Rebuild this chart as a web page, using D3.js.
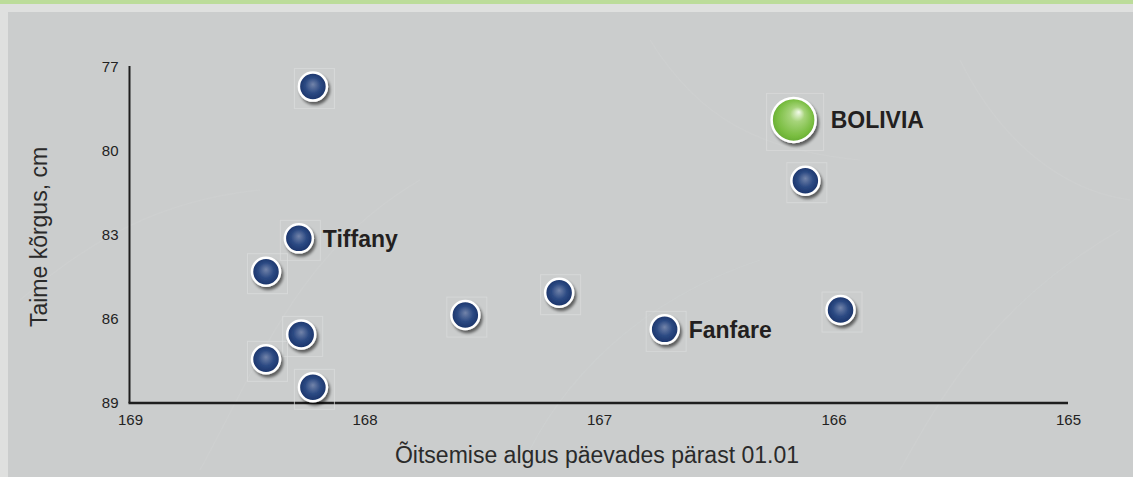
<!DOCTYPE html>
<html><head><meta charset="utf-8">
<script src="https://cdn.jsdelivr.net/npm/d3@7/dist/d3.min.js"></script>
<style>html,body{margin:0;padding:0;background:#cbcdcd;}svg{display:block;}</style>
</head><body>
<svg id="c" width="1133" height="477"></svg>
<script>
// Data
const days    = [168.22, 168.28, 168.42, 168.27, 168.42, 168.22, 167.57, 167.17, 166.72, 166.12, 165.97, 166.17];
const heights = [77.7,   83.12,  84.31,  86.55,  87.44,  88.44,  85.86,  85.06,  86.37,  81.06,  85.68,  78.89];
const labels  = ["",     "Tiffany", "",  "",     "",     "",     "",     "",     "Fanfare", "",   "",     "BOLIVIA"];
const highlight = [false,false,false,false,false,false,false,false,false,false,false,true];
const xTicks = [169, 168, 167, 166, 165];
const yTicks = [77, 80, 83, 86, 89];
const xTitle = "Õitsemise algus päevades pärast 01.01";
const yTitle = "Taime kõrgus, cm";

const W = 1133, H = 477;
const svg = d3.select("#c");
const font = "'Liberation Sans', Arial, sans-serif";

// background frame
svg.append("rect").attr("x",0).attr("y",0).attr("width",W).attr("height",H).attr("fill","#dfe0df");
svg.append("rect").attr("x",8).attr("y",12).attr("width",W-8).attr("height",H-12).attr("fill","#cbcdcd");
svg.append("rect").attr("x",0).attr("y",0).attr("width",W).attr("height",4).attr("fill","#bcdc9a");

// very subtle leaf texture
const tex = svg.append("g").attr("opacity",0.1).attr("fill","none").attr("stroke","#e6e7e7").attr("stroke-width",1.2);
["M200,470 C260,360 300,250 420,180","M520,470 C560,380 640,300 760,260","M900,470 C950,380 1000,300 1120,230",
 "M20,300 C90,240 160,200 260,190","M650,40 C700,120 760,150 860,160","M960,60 C1000,140 1060,190 1130,200"]
 .forEach(p=>tex.append("path").attr("d",p));

const defs = svg.append("defs");
const gb = defs.append("radialGradient").attr("id","gBlue").attr("cx","0.5").attr("cy","0.5").attr("r","0.55").attr("fx","0.5").attr("fy","0.42");
gb.append("stop").attr("offset","0").attr("stop-color","#7384aa");
gb.append("stop").attr("offset","0.5").attr("stop-color","#2c4a83");
gb.append("stop").attr("offset","1").attr("stop-color","#152d63");
const gg = defs.append("radialGradient").attr("id","gGreen").attr("cx","0.5").attr("cy","0.5").attr("r","0.55").attr("fx","0.62").attr("fy","0.32");
gg.append("stop").attr("offset","0").attr("stop-color","#f4fbec");
gg.append("stop").attr("offset","0.3").attr("stop-color","#a6d47a");
gg.append("stop").attr("offset","0.75").attr("stop-color","#79bd40");
gg.append("stop").attr("offset","1").attr("stop-color","#5fa52c");
const f = defs.append("filter").attr("id","sh").attr("x","-50%").attr("y","-50%").attr("width","200%").attr("height","200%");
f.append("feGaussianBlur").attr("in","SourceAlpha").attr("stdDeviation",1.6).attr("result","b");
f.append("feOffset").attr("in","b").attr("dx",2).attr("dy",2.5).attr("result","o");
f.append("feComponentTransfer").attr("in","o").attr("result","o2").append("feFuncA").attr("type","linear").attr("slope",0.55);
const fm = f.append("feMerge"); fm.append("feMergeNode").attr("in","o2"); fm.append("feMergeNode").attr("in","SourceGraphic");

// scales
const x = d3.scaleLinear().domain([169,165]).range([130,1068]);
const y = d3.scaleLinear().domain([77,89]).range([67,403]);

// axes
const xAxis = d3.axisBottom(x).tickValues(xTicks).tickSize(0).tickPadding(11).tickFormat(d3.format("d"));
const yAxis = d3.axisLeft(y).tickValues(yTicks).tickSize(0).tickPadding(11).tickFormat(d3.format("d"));
const gx = svg.append("g").attr("transform","translate(0,403)").call(xAxis);
const gy = svg.append("g").attr("transform","translate(129.5,0)").call(yAxis);
[gx,gy].forEach(g=>{
  g.select(".domain").remove();
  g.selectAll("text").attr("font-family",font).attr("font-size",15).attr("fill","#222");
});
svg.append("line").attr("x1",129.5).attr("x2",129.5).attr("y1",66).attr("y2",403).attr("stroke","#1e1e1e").attr("stroke-width",2);
svg.append("line").attr("x1",128.5).attr("x2",1068).attr("y1",403).attr("y2",403).attr("stroke","#1e1e1e").attr("stroke-width",2.4);

svg.append("text").attr("x",597).attr("y",463).attr("text-anchor","middle").attr("font-family",font)
  .attr("font-size",23).attr("fill","#2a2a2a").text(xTitle);
svg.append("text").attr("transform","translate(47,237) rotate(-90)").attr("text-anchor","middle").attr("font-family",font)
  .attr("font-size",23).attr("fill","#2a2a2a").text(yTitle);

// points
const pts = days.map((d,i)=>({x:d,y:heights[i],label:labels[i],hi:highlight[i]}));
const g = svg.append("g");
pts.forEach(p=>{
  const cx = x(p.x), cy = y(p.y);
  const r = p.hi ? 22 : 14;
  const bs = p.hi ? 57 : 40;
  g.append("rect").attr("x",cx - bs/2 + 1.5).attr("y",cy - bs/2 + 2).attr("width",bs).attr("height",bs)
    .attr("fill","none").attr("stroke","#dcdddd").attr("stroke-width",1).attr("opacity",0.7);
  g.append("circle").attr("cx",cx).attr("cy",cy).attr("r",r)
    .attr("fill", p.hi ? "url(#gGreen)" : "url(#gBlue)")
    .attr("stroke","#ffffff").attr("stroke-width",2.5).attr("filter","url(#sh)");
  if (p.label) {
    g.append("text").attr("x",cx + r + (p.hi?15:10)).attr("y",cy).attr("dy","0.36em")
      .attr("font-family",font).attr("font-weight","bold").attr("font-size",23).attr("fill","#231f20").text(p.label);
  }
});
</script>
</body></html>
